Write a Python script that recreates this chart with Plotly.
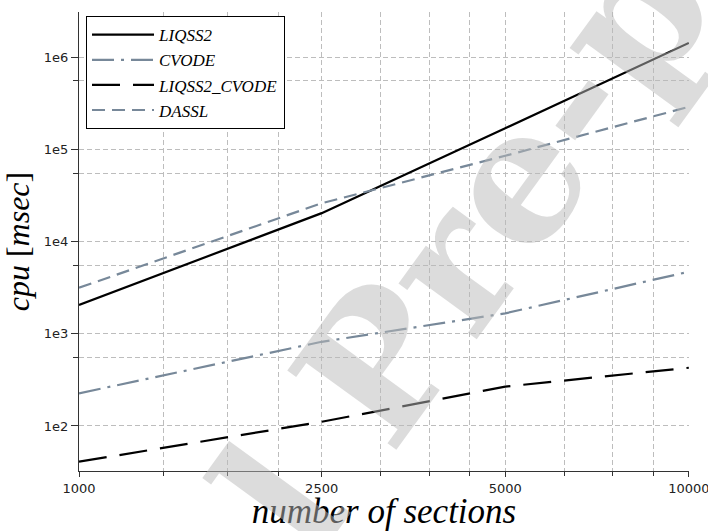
import plotly.graph_objects as go

# Number of sections (x) and CPU time in msec for each solver
sections = [1000, 2500, 5000, 10000]
liqss2 = [2050, 20300, 169000, 1420000]
cvode = [226, 818, 1664, 4700]
liqss2_cvode = [41, 111, 267, 428]
dassl = [3150, 26000, 85000, 288000]

x_major = [1000, 2500, 5000, 10000]
x_minor = [1375, 1750, 2125, 3125, 3750, 4375, 6250, 7500, 8750]
y_major = [1e2, 1e3, 1e4, 1e5, 1e6]
y_major_text = ["1e2", "1e3", "1e4", "1e5", "1e6"]
y_minor = [550, 5500, 55000, 550000]

SLATE = "#778899"
GRID = "#bdbdbd"
AXIS = "#333333"
SERIF = "Liberation Serif"

fig = go.Figure()
fig.add_trace(go.Scatter(x=sections, y=liqss2, mode="lines", name="LIQSS2",
                         line=dict(color="black", width=2.2)))
fig.add_trace(go.Scatter(x=sections, y=cvode, mode="lines", name="CVODE",
                         line=dict(color=SLATE, width=2.2, dash="22px,7px,3px,7px")))
fig.add_trace(go.Scatter(x=sections, y=liqss2_cvode, mode="lines", name="LIQSS2_CVODE",
                         line=dict(color="black", width=2.2, dash="28px,13px")))
fig.add_trace(go.Scatter(x=sections, y=dassl, mode="lines", name="DASSL",
                         line=dict(color=SLATE, width=2.2, dash="13px,7px")))

fig.update_xaxes(
    type="log", range=[3, 4.0003], tickmode="array", tickvals=x_major,
    ticktext=[str(v) for v in x_major], ticklabeloverflow="allow", automargin=False,
    showline=True, linecolor=AXIS, linewidth=1.3, ticks="outside", ticklen=5,
    tickcolor=AXIS, showgrid=True, gridcolor=GRID, gridwidth=1, griddash="5px,3px",
    minor=dict(tickmode="array", tickvals=x_minor, ticks="outside", ticklen=4,
               tickcolor=AXIS, showgrid=True, gridcolor=GRID, griddash="5px,3px"),
    tickfont=dict(family="DejaVu Sans", size=13, color="#222222"),
    title=dict(text="number of sections", standoff=4,
               font=dict(family=SERIF, size=35, color="black", style="italic")),
    zeroline=False,
)
fig.update_yaxes(
    type="log", range=[1.512, 6.488], tickmode="array", tickvals=y_major,
    ticktext=y_major_text, automargin=False,
    showline=True, linecolor=AXIS, linewidth=1.3, ticks="outside", ticklen=7,
    tickcolor=AXIS, showgrid=True, gridcolor=GRID, gridwidth=1, griddash="5px,3px",
    minor=dict(tickmode="array", tickvals=y_minor, ticks="outside", ticklen=5,
               tickcolor=AXIS, showgrid=True, gridcolor=GRID, griddash="5px,3px"),
    tickfont=dict(family="DejaVu Sans", size=13, color="#222222"),
    title=dict(text="<i>cpu</i> [<i>msec</i>]", standoff=12,
               font=dict(family=SERIF, size=32, color="black")),
    zeroline=False,
)

# diagonal "Journal Pre-proof" stamp laid over the plot
fig.add_annotation(
    text="<b>Journal Pre-proof</b>", xref="paper", yref="paper", x=0.498, y=0.246,
    xanchor="center", yanchor="middle", textangle=-54, showarrow=False,
    font=dict(family="DejaVu Serif", size=185, color="rgba(185,185,185,0.5)"),
)

fig.update_layout(
    width=708, height=531, autosize=False,
    margin=dict(l=79, r=19, t=12, b=60),
    paper_bgcolor="white", plot_bgcolor="white",
    showlegend=True,
    legend=dict(x=0.0115, y=0.991, xanchor="left", yanchor="top",
                bgcolor="white", bordercolor="black", borderwidth=1,
                font=dict(family=SERIF, size=17, color="black", style="italic"),
                itemwidth=62, tracegroupgap=0),
)

fig.write_html("out.html")
